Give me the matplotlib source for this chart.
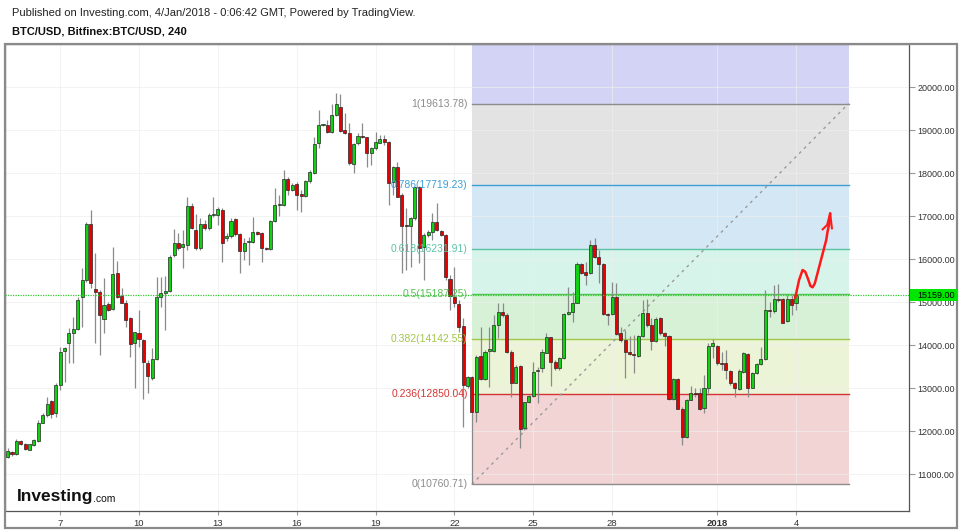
import matplotlib
matplotlib.use("Agg")
import matplotlib.pyplot as plt
from matplotlib.patches import Rectangle

plt.rcParams['font.family'] = ['Liberation Sans', 'DejaVu Sans']

# 4h candles, Dec 5 2017 00:00 -> Jan 4 2018 00:00 (index = candle number)
opens = [11403, 11519, 11465, 11760, 11705, 11565, 11674, 11767, 12193, 12372,
         12698, 12411, 13062, 13860, 14039, 14271, 14364, 15124, 15512, 16814,
         15294, 15240, 14597, 14945, 14830, 15682, 15140, 14985, 14636, 14054,
         14287, 14116, 13573, 13240, 13674, 15108, 15217, 15263, 16093, 16364,
         16271, 16325, 17232, 16674, 16248, 16814, 16713, 17023, 17023, 17140,
         16480, 16535, 16922, 16574, 16194, 16388, 16403, 16620, 16597, 16264,
         16225, 16892, 17256, 17256, 17868, 17605, 17736, 17512, 17465, 17806,
         17992, 18706, 19117, 19117, 18961, 19349, 19527, 19000, 18938, 18210,
         18690, 18861, 18830, 18458, 18582, 18706, 18783, 18721, 17799, 18148,
         17488, 16780, 16768, 16961, 17667, 16287, 16558, 16620, 16868, 16651,
         16558, 15535, 15124, 14946, 14442, 13047, 13248, 12450, 13744, 13201,
         13868, 13868, 14465, 14775, 14698, 13845, 13124, 13511, 12062, 12667,
         12814, 13403, 13457, 13822, 14178, 13612, 13457, 13690, 14721, 14775,
         14984, 15884, 15690, 15667, 16326, 16039, 15884, 14713, 14713, 15124,
         14271, 14116, 13829, 13790, 13752, 14209, 14736, 14465, 14101, 14620,
         14271, 14209, 12736, 13217, 12519, 11853, 12721, 12876, 12876, 12527,
         12992, 13977, 13977, 13574, 13574, 13395, 13124, 12969, 13380, 13791,
         13007, 13341, 13558, 13667, 14814, 14783, 15070, 15070, 14566, 15070,
         14984]
highs = [11597, 11540, 11806, 11790, 11730, 11700, 11810, 12256, 12410, 12800,
         12720, 13110, 13960, 13960, 14388, 14659, 15124, 15783, 16868, 17139,
         16132, 15279, 15550, 15000, 16287, 15953, 15318, 15046, 14659, 14310,
         14814, 14130, 13651, 13922, 15589, 15589, 15605, 16093, 16690, 16597,
         16674, 17450, 17300, 17046, 16946, 16907, 17062, 17450, 17217, 17178,
         16600, 16950, 16960, 16600, 16481, 16520, 16985, 16660, 16636, 16290,
         16907, 17644, 17489, 18070, 17915, 17760, 17798, 17605, 17837, 18070,
         18845, 19465, 19150, 19233, 19605, 19868, 19837, 19388, 19155, 18706,
         18923, 19155, 18845, 18613, 18961, 18884, 18884, 18740, 18163, 18264,
         17527, 17179, 16985, 17683, 17698, 16597, 16680, 17062, 17310, 16680,
         16581, 15628, 15806, 15047, 14620, 13290, 13290, 13768, 14426, 13884,
         14426, 14698, 14969, 14969, 14736, 13884, 13535, 13535, 12682, 12837,
         13612, 13496, 13900, 14271, 14194, 13651, 13713, 14736, 15357, 15240,
         15938, 15900, 15937, 16450, 16481, 16209, 15900, 14736, 15473, 15434,
         14426, 14349, 14209, 14233, 14233, 15046, 15062, 14620, 14659, 14659,
         14310, 14233, 13233, 13233, 12566, 12736, 13046, 12992, 12992, 13302,
         14039, 14132, 14000, 13845, 13884, 13418, 13147, 13434, 13845, 13822,
         13380, 13574, 13961, 15279, 15008, 15395, 15418, 15085, 15163, 15163,
         15190]
lows = [11364, 11420, 11440, 11680, 11560, 11555, 11660, 11750, 12180, 12330,
        12295, 12330, 12950, 13147, 13573, 13573, 14349, 14426, 15473, 15318,
        14039, 13767, 14271, 14790, 14814, 15100, 14969, 14426, 13729, 13008,
        13961, 12736, 12876, 13186, 13651, 14891, 14349, 15240, 16054, 16209,
        15783, 16209, 16690, 16209, 16209, 16674, 16674, 16985, 16790, 15938,
        16430, 16500, 16540, 15667, 15977, 15860, 16365, 16560, 15938, 16200,
        16210, 16868, 17000, 17233, 17489, 17580, 17140, 17101, 17434, 17760,
        17977, 18574, 19100, 18923, 18940, 19326, 18961, 18907, 18186, 18008,
        18651, 18807, 18132, 18186, 18535, 18690, 18651, 17256, 17489, 17434,
        15682, 15744, 15822, 16907, 15899, 15512, 16520, 16442, 16650, 16530,
        15512, 14814, 14892, 14300, 12100, 13000, 10760.71, 12217, 13186, 13186,
        13031, 13845, 14155, 14659, 13806, 12799, 13109, 11597, 12023, 12659,
        12799, 12659, 13380, 13806, 13047, 13419, 13419, 13667, 14700, 14543,
        14969, 15650, 15395, 15650, 16015, 15434, 14698, 14465, 14698, 14233,
        14077, 13225, 13768, 13341, 13729, 14178, 14426, 13884, 14077, 14233,
        13977, 12721, 12721, 12503, 11675, 11830, 12721, 12798, 12488, 12411,
        12891, 13690, 13535, 13418, 13209, 13070, 12783, 12953, 13356, 12798,
        12992, 13325, 13535, 13651, 14643, 14736, 15008, 14504, 14543, 14698,
        14814]
closes = [11542, 11457, 11760, 11698, 11573, 11690, 11790, 12193, 12364, 12628,
          12395, 13070, 13829, 13938, 14271, 14364, 15046, 15512, 16814, 15434,
          15240, 14690, 14922, 14814, 15643, 15124, 14985, 14581, 14015, 14294,
          14132, 13612, 13279, 13674, 15108, 15217, 15263, 16054, 16364, 16263,
          16341, 17232, 16729, 16248, 16806, 16713, 17023, 17046, 17155, 16364,
          16535, 16891, 16574, 16194, 16365, 16411, 16620, 16582, 16264, 16225,
          16892, 17248, 17272, 17853, 17605, 17713, 17489, 17473, 17806, 18016,
          18675, 19117, 19130, 18961, 19349, 19605, 18985, 18923, 18225, 18675,
          18861, 18830, 18458, 18574, 18721, 18783, 18729, 17775, 18132, 17450,
          16775, 16768, 16961, 17667, 16248, 16558, 16620, 16868, 16675, 16558,
          15574, 15140, 14985, 14411, 13070, 13248, 12450, 13713, 13209, 13845,
          13907, 14465, 14775, 14698, 13845, 13124, 13496, 12039, 12667, 12814,
          13380, 13426, 13845, 14178, 13612, 13457, 13690, 14721, 14775, 14984,
          15884, 15674, 15628, 16326, 16039, 15884, 14721, 14690, 15124, 14248,
          14116, 13829, 13790, 13767, 14209, 14736, 14465, 14101, 14605, 14271,
          14209, 12736, 13217, 12519, 11853, 12721, 12876, 12852, 12504, 12992,
          13977, 14039, 13574, 13550, 13418, 13108, 12992, 13395, 13806, 12992,
          13356, 13558, 13667, 14814, 14783, 15070, 15046, 14519, 15070, 14930,
          15159]

tick_pos = [12, 30, 48, 66, 84, 102, 120, 138, 162, 180]
tick_labels = ['7', '10', '13', '16', '19', '22', '25', '28', '2018', '4']
price_ticks = [11000, 12000, 13000, 14000, 15000, 16000, 17000, 18000, 19000, 20000]

# fibonacci retracement drawn from the Dec 22 low to the high
fib_start, fib_end = 106, 192
fib_levels = [0, 0.236, 0.382, 0.5, 0.618, 0.786, 1]
fib_prices = [10760.71, 12850.04, 14142.55, 15187.25, 16231.91, 17719.23, 19613.78]
fib_top = 25083.0
fib_fills = ['#f3d4d4', '#ebf4d6', '#d7f1d7', '#d6f4ea', '#d3e8f4', '#e3e3e3', '#d3d3f5']
fib_lines = ['#8c8c8c', '#d63434', '#a3c64c', '#55c255', '#5cc2a6', '#3d9fd6', '#8c8c8c']
last_price = 15159.00

# hand drawn red arrow (candle index, price)
arrow_x = [179.8, 180.7, 181.5, 182.1, 182.7, 183.3, 183.8, 184.3, 185.3, 186.3,
           186.9, 187.2, 187.6, 187.8]
arrow_y = [15086, 15512, 15744, 15705, 15551, 15372, 15342, 15434, 15821, 16209,
           16442, 16635, 16830, 17063]
barb_x = [186.1, 187.1, 187.8, 188.2]
barb_y = [16691, 16791, 17063, 16714]

fig = plt.figure(figsize=(9.6, 5.3), dpi=100)
ax = fig.add_axes([5 / 960, 1 - 511 / 530, 904 / 960, 467 / 530])

# fib bands
edges = fib_prices + [fib_top]
for i in range(len(fib_fills)):
    ax.fill_between([fib_start, fib_end], edges[i], edges[i + 1],
                    color=fib_fills[i], lw=0, zorder=0)
for lvl, p, c in zip(fib_levels, fib_prices, fib_lines):
    ax.plot([fib_start, fib_end], [p, p], color=c, lw=1, zorder=2)
    ax.annotate(f"{lvl}({p:.2f})", (fib_start, p), xytext=(-3, 0),
                textcoords='offset points', ha='right', va='center',
                color=c, fontsize=7.5, zorder=6)
ax.plot([fib_start, fib_end], [fib_prices[0], fib_prices[-1]], color='#9a9a9a',
        lw=1, ls=(0, (2, 3)), zorder=2)

# grid
for t in tick_pos:
    ax.axvline(t, color='#eeeeee', lw=0.7, alpha=0.7, zorder=1)
for p in price_ticks:
    ax.axhline(p, color='#eeeeee', lw=0.7, alpha=0.7, zorder=1)

# candles
xs = list(range(len(opens)))
ax.vlines(xs, lows, highs, color='#8a8a8a', lw=0.9, zorder=3)
bottoms = [min(o, c) for o, c in zip(opens, closes)]
heights = [max(abs(c - o), 18) for o, c in zip(opens, closes)]
colors = ['#12d012' if c >= o else '#e80000' for o, c in zip(opens, closes)]
ax.bar(xs, heights, bottom=bottoms, width=0.7, color=colors,
       edgecolor='#262626', linewidth=0.5, zorder=4)

# current price line
ax.axhline(last_price, color='#2ecc2e', lw=0.9, ls=(0, (1, 1)), zorder=5)

# red arrow sketch
ax.plot(arrow_x, arrow_y, color='#ff1a1a', lw=1.8, zorder=7, solid_capstyle='round')
ax.plot(barb_x, barb_y, color='#ff1a1a', lw=1.5, zorder=7)

ax.set_xlim(-0.6, 205.8)
ax.set_ylim(10140, 21000)
ax.set_xticks(tick_pos)
ax.set_xticklabels(tick_labels, fontsize=6.8, color='#333333')
ax.get_xticklabels()[8].set_fontweight('bold')
ax.yaxis.tick_right()
ax.set_yticks(price_ticks)
ax.set_yticklabels([f"{p:.2f}" for p in price_ticks], fontsize=6.5, color='#333333')
ax.tick_params(axis='y', length=4, color='#999999', pad=2)
ax.tick_params(axis='x', length=3, color='#999999', pad=3)
for s in ax.spines.values():
    s.set_color('#555555')
    s.set_linewidth(0.9)

# price label box on the axis, placed through the data transform
y_fig = fig.transFigure.inverted().transform(ax.transData.transform((0, last_price)))[1]
fig.patches.append(Rectangle((910 / 960, y_fig - 6 / 530), 47 / 960, 12 / 530,
                             transform=fig.transFigure, fc='#00e600', ec='none', zorder=5))
fig.text(917 / 960, y_fig, f"{last_price:.2f}", fontsize=6.5, color='black',
         va='center', ha='left', zorder=6)

# outer frame
fig.patches.append(Rectangle((5 / 960, 2 / 530), 952 / 960, 484 / 530,
                             transform=fig.transFigure, fill=False,
                             ec='#8a8a8a', lw=1.6, zorder=0))

fig.text(12 / 960, 1 - 13 / 530, "Published on Investing.com, 4/Jan/2018 - 0:06:42 GMT, Powered by TradingView.",
         fontsize=8, va='center', color='#222222')
fig.text(12 / 960, 1 - 32 / 530, "BTC/USD, Bitfinex:BTC/USD, 240",
         fontsize=8, fontweight='bold', va='center', color='#111111')
fig.text(17 / 960, 1 - 497 / 530, "Investing", fontsize=12.5, fontweight='bold',
         va='center', color='#111111')
fig.text(92.5 / 960, 1 - 499 / 530, ".com", fontsize=7.5, va='center', color='#111111')

fig.savefig("out.png", dpi=100)
